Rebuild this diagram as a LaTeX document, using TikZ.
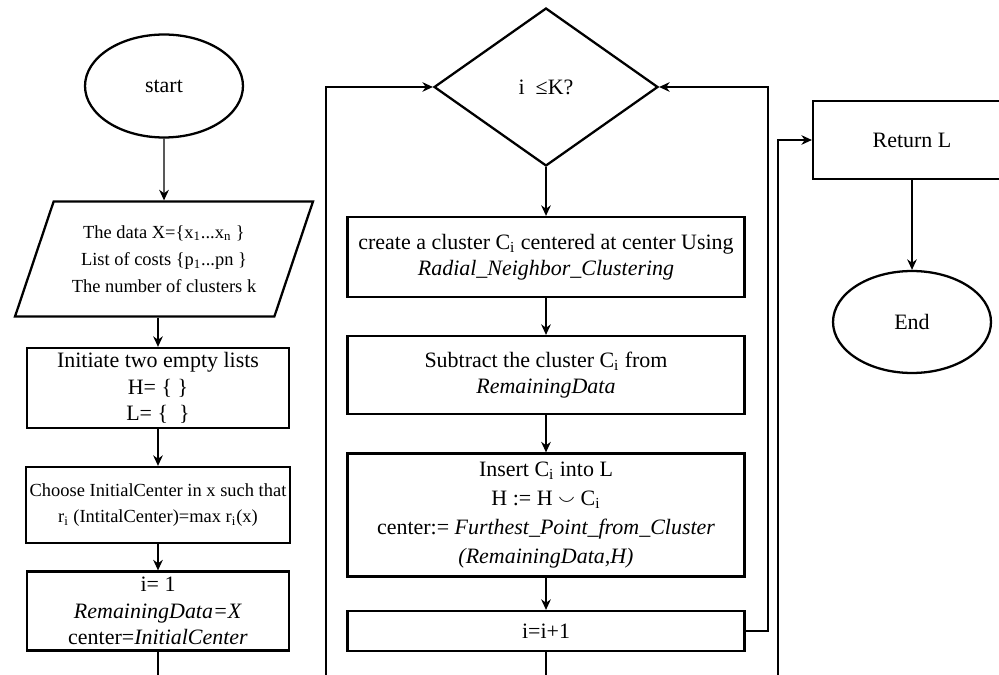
\documentclass[tikz,border=0pt]{standalone}
\usepackage{fontspec}
\setmainfont{Liberation Serif}
\usepackage{amsmath}
\usepackage{amssymb}
\usepackage{tikz}
\usetikzlibrary{shapes.geometric,arrows.meta}

\begin{document}
\begin{tikzpicture}[x=0.02cm, y=-0.02cm, line width=0.7pt,
	>={Stealth[length=6pt,width=5.5pt]},
	every node/.style={font=\fontsize{12.5}{15}\selectfont, align=center, line width=1.3pt},
	term/.style={ellipse, draw, minimum width=3.16cm, minimum height=2.06cm},
	io/.style={trapezium, draw, trapezium left angle=64, trapezium right angle=116,
		trapezium stretches body, minimum width=5.96cm, minimum height=2.3cm,
		font=\fontsize{10.5}{15.5}\selectfont},
	box/.style={rectangle, draw, inner sep=2pt, minimum width=5.24cm},
	wide/.style={rectangle, draw, inner sep=2pt, minimum width=7.94cm},
	test/.style={diamond, draw, minimum width=4.48cm, minimum height=3.16cm}]
	\useasboundingbox (0,0) rectangle (999,675);
	\clip (0,0) rectangle (999,675);
	% left column
	\node (start) at (164,86) [term] {start};
	\node (input) at (164,259) [io] {The data X=\{x\textsubscript{1}...x\textsubscript{n} \}\\
		List of costs \{p\textsubscript{1}...pn \}\\ The number of clusters k};
	\node (init) at (158,388) [box, minimum height=1.6cm] {Initiate two empty lists\\ H= \{ \}\\ L= \{ \ \}};
	\node (choose) at (158,505) [box, minimum height=1.52cm, font=\fontsize{10.5}{15}\selectfont]
		{Choose InitialCenter in x such that\\ r\textsubscript{i} (IntitalCenter)=max r\textsubscript{i}(x)};
	\node (setup) at (158,611) [box, minimum height=1.58cm] {i= 1\\ \textit{RemainingData=X}\\ center=\textit{InitialCenter}};
	% loop
	\node (cond) at (546,87) [test] {i \ ≤K?};
	\node (create) at (546,257) [wide, minimum height=1.6cm]
		{create a cluster C\textsubscript{i} centered at center Using\\ \textit{Radial\_Neighbor\_Clustering}};
	\node (sub) at (546,375) [wide, minimum height=1.56cm] {Subtract the cluster C\textsubscript{i} from\\ \textit{RemainingData}};
	\node (ins) at (546,515) [wide, minimum height=2.46cm, font=\fontsize{12.5}{16.5}\selectfont]
		{Insert C\textsubscript{i} into L\\ H := H $\smallsmile$ C\textsubscript{i}\\
		center:= \textit{Furthest\_Point\_from\_Cluster}\\ \textit{(RemainingData,H)}};
	\node (incr) at (546,631) [wide, minimum height=0.8cm] {i=i+1};
	% exit
	\node (ret) at (912,140) [rectangle, draw, minimum width=3.96cm, minimum height=1.56cm] {Return L};
	\node (finish) at (912,322) [term, minimum height=2.04cm] {End};
	\coordinate (out1) at (158,690);
	\coordinate (out2) at (546,690);
	\coordinate (back) at (326,690);
	\coordinate (turn) at (768,631);
	\coordinate (exit) at (778,690);
	\draw[->] (start) -- (input);
	\draw[->] (input.south -| init.north) -- (init);
	\draw[->] (init) -- (choose);
	\draw[->] (choose) -- (setup);
	\draw (setup) -- (out1);
	\draw[->] (back) |- (cond.west);
	\draw[->] (cond) -- (create);
	\draw[->] (create) -- (sub);
	\draw[->] (sub) -- (ins);
	\draw[->] (ins) -- (incr);
	\draw (incr) -- (out2);
	\draw[->] (incr.east) -- (turn) |- (cond.east);
	\draw[->] (exit) |- (ret.west);
	\draw[->] (ret) -- (finish);
\end{tikzpicture}
\end{document}
